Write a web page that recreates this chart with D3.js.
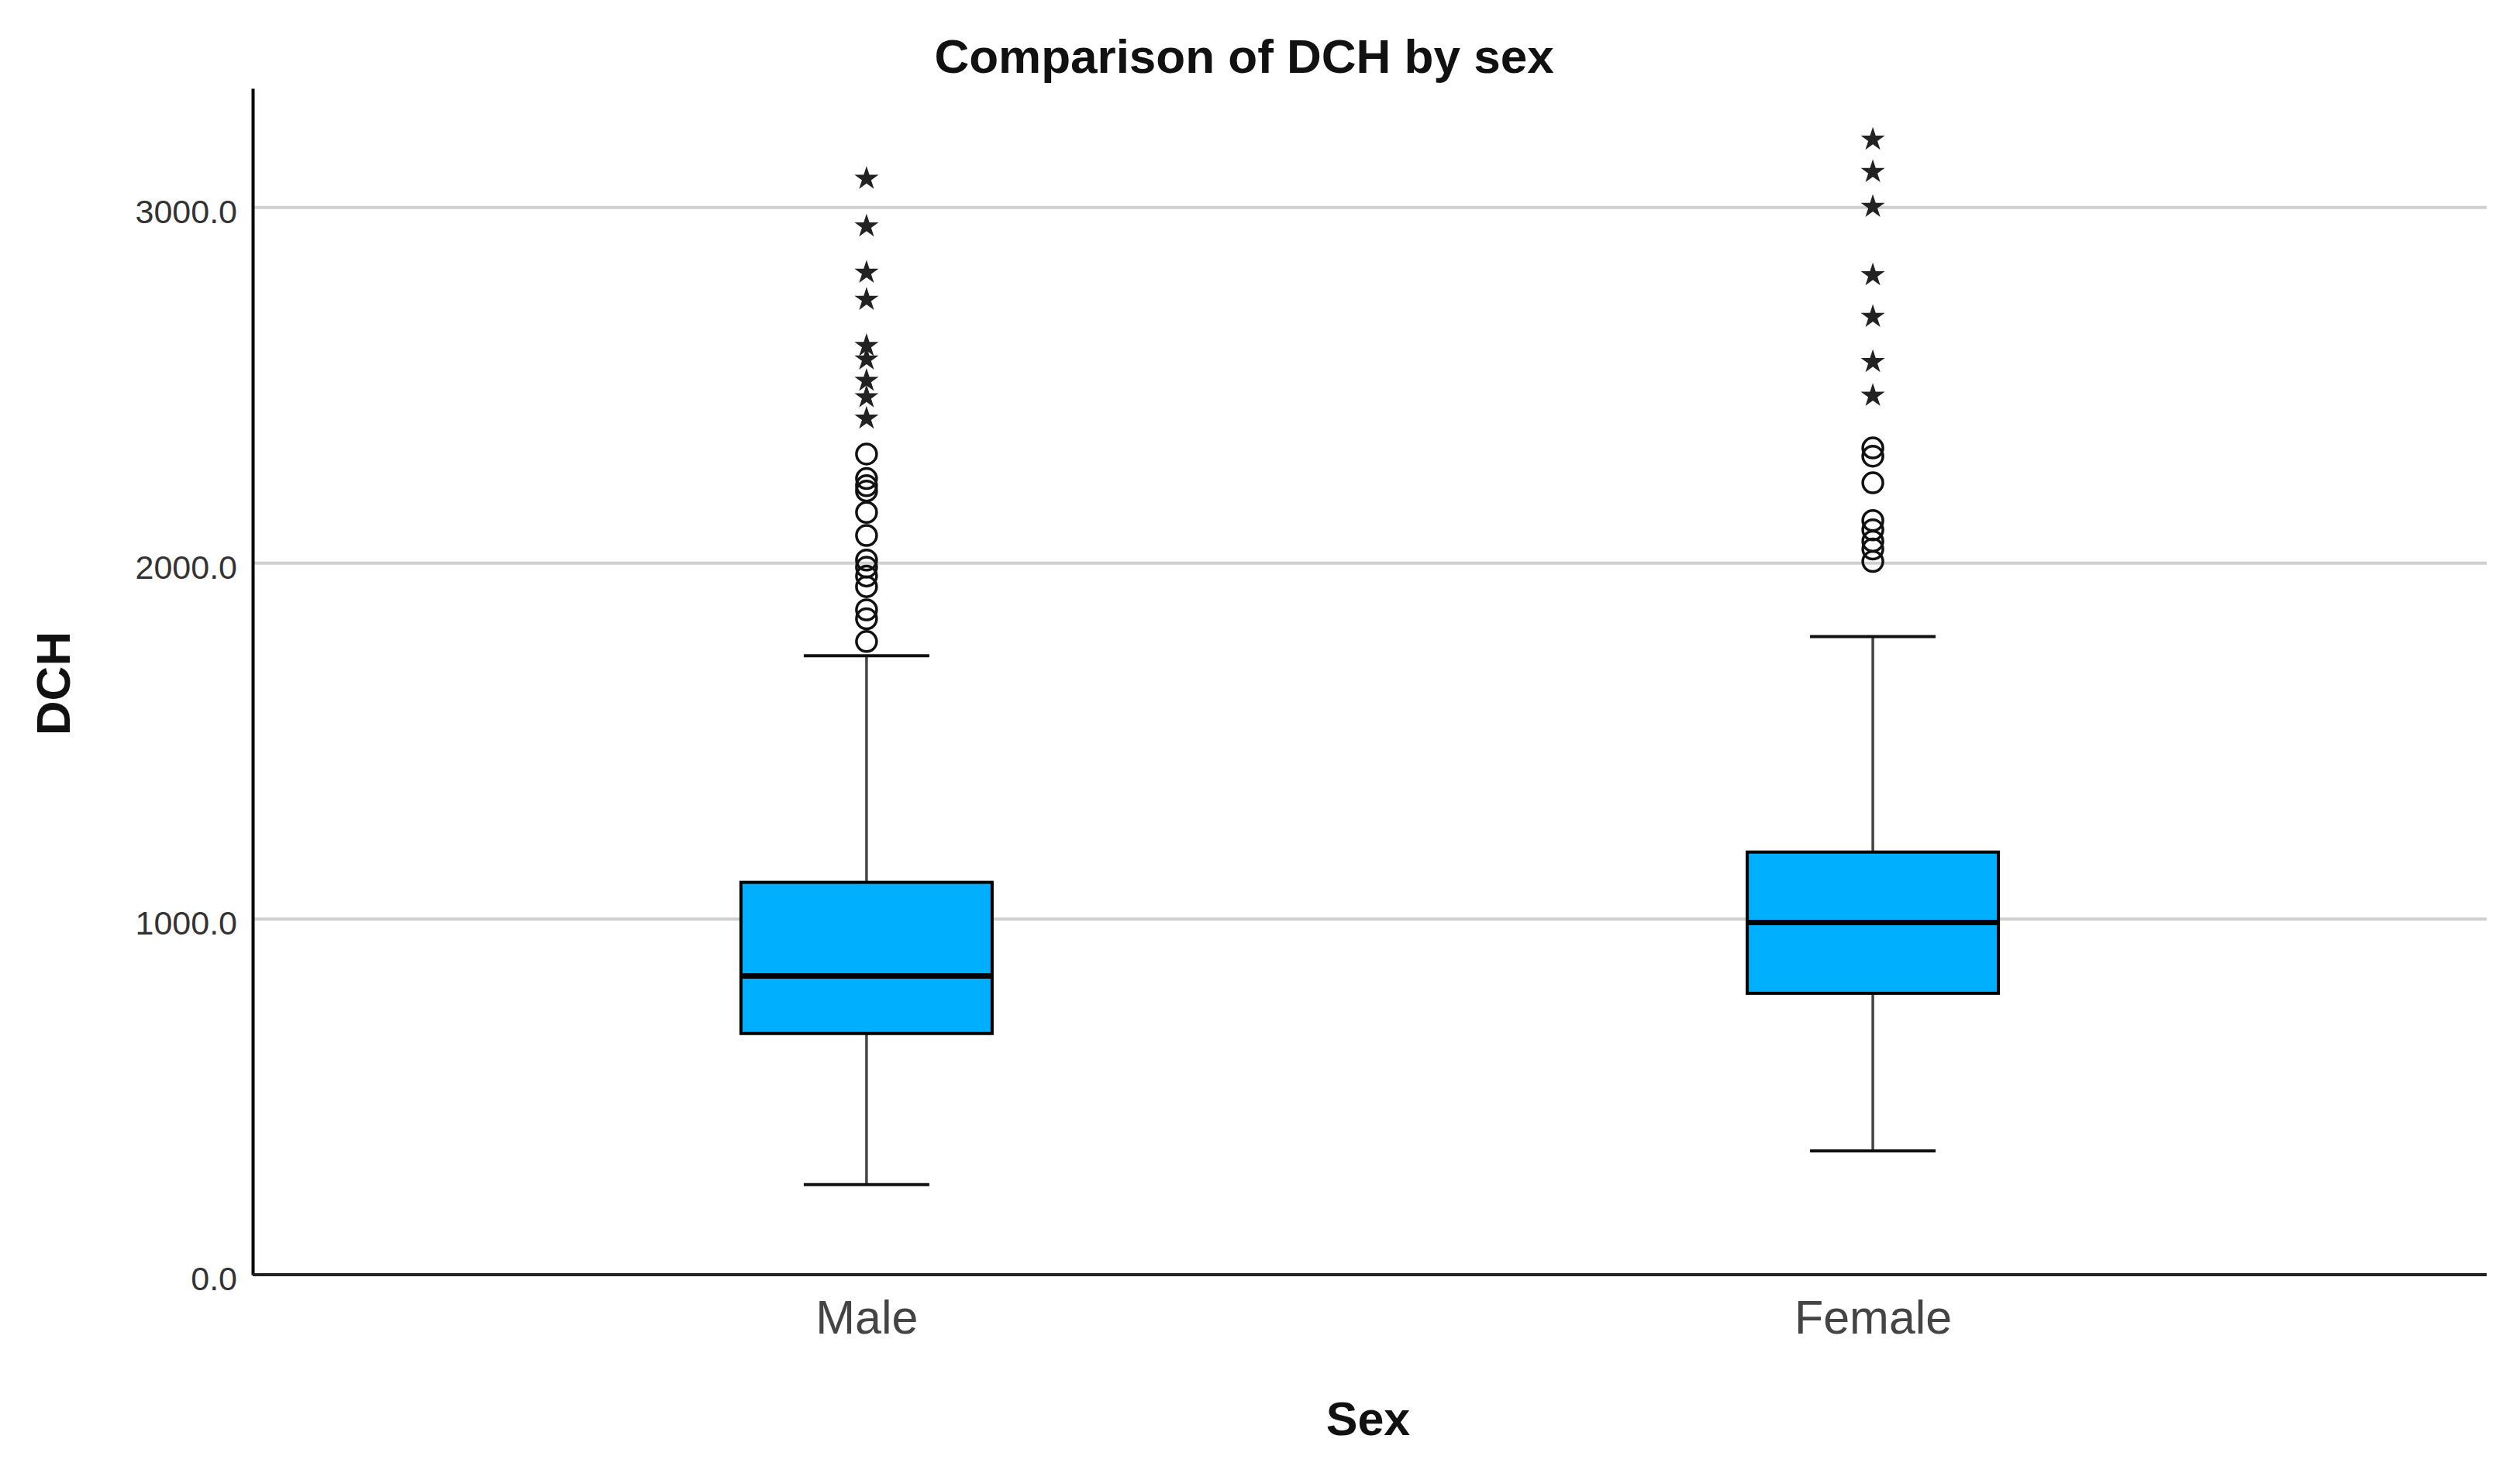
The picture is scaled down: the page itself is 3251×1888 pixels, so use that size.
<!DOCTYPE html>
<html>
<head>
    <meta charset="UTF-8" />
    <title>Comparison of DCH by sex</title>
    <script src="https://d3js.org/d3.v7.min.js"></script>
    <style>
      body { margin: 0; background: #fff; }
      text { font-family: Arial, "Liberation Sans", sans-serif; }
    </style>
</head>
<body>
<div id="main"></div>
<script type="text/javascript">

// data
const categories = ["Male", "Female"]
const q1 = [678, 791]
const medians = [840, 990]
const q3 = [1103, 1188]
const whiskerLow = [253, 348]
const whiskerHigh = [1740, 1794]
// mild outliers (circles)
const maleCircles = [2307, 2238, 2218, 2203, 2143, 2078, 2009, 1989, 1964, 1934, 1869, 1844, 1780]
const femaleCircles = [2324, 2301, 2226, 2120, 2094, 2062, 2040, 2005]
// extreme outliers (stars)
const maleStars = [3081, 2947, 2817, 2741, 2611, 2573, 2513, 2467, 2407]
const femaleStars = [3191, 3100, 3002, 2810, 2693, 2566, 2471]
const yTicks = [0, 1000, 2000, 3000]

const width = 3251
const height = 1888
const margin = {top: 114, right: 43, bottom: 243, left: 326}

const svg = d3.select("#main").append("svg")
  .attr("width", width)
  .attr("height", height)

const x = d3.scalePoint()
  .domain(categories)
  .range([margin.left, width - margin.right])
  .padding(0.61)

const y = d3.scaleLinear()
  .domain([0, 3335])
  .range([height - margin.bottom, margin.top])

const boxWidth = 324
const capWidth = 162

// gridlines
svg.append("g")
  .selectAll("line").data(yTicks.filter(d => d > 0)).enter().append("line")
  .attr("x1", margin.left).attr("x2", width - margin.right)
  .attr("y1", d => y(d)).attr("y2", d => y(d))
  .attr("stroke", "#cfcfcf")
  .attr("stroke-width", 4)

// y axis
const yAxis = svg.append("g")
  .attr("transform", `translate(${margin.left},0)`)
  .call(d3.axisLeft(y).tickValues(yTicks).tickFormat(d3.format(".1f")).tickSize(0).tickPadding(20))
yAxis.select(".domain").attr("stroke", "#000").attr("stroke-width", 4)
yAxis.selectAll("text").attr("font-size", 43).attr("fill", "#333").attr("dy", "0.45em")

// x axis
const xAxis = svg.append("g")
  .attr("transform", `translate(0,${height - margin.bottom})`)
  .call(d3.axisBottom(x).tickSize(0).tickPadding(24))
xAxis.select(".domain").attr("stroke", "#222").attr("stroke-width", 4)
  .attr("d", `M${margin.left},0H${width - margin.right}`)
xAxis.selectAll("text").attr("font-size", 61).attr("fill", "#444").attr("dy", "0.85em")

const boxes = categories.map((c, i) => ({
  cat: c, q1: q1[i], med: medians[i], q3: q3[i], lo: whiskerLow[i], hi: whiskerHigh[i]
}))

const g = svg.append("g")

// whiskers
g.selectAll(".whisker").data(boxes).enter().append("line")
  .attr("x1", d => x(d.cat)).attr("x2", d => x(d.cat))
  .attr("y1", d => y(d.lo)).attr("y2", d => y(d.hi))
  .attr("stroke", "#444").attr("stroke-width", 3.5)

g.selectAll(".capLo").data(boxes).enter().append("line")
  .attr("x1", d => x(d.cat) - capWidth / 2).attr("x2", d => x(d.cat) + capWidth / 2)
  .attr("y1", d => y(d.lo)).attr("y2", d => y(d.lo))
  .attr("stroke", "#111").attr("stroke-width", 4)

g.selectAll(".capHi").data(boxes).enter().append("line")
  .attr("x1", d => x(d.cat) - capWidth / 2).attr("x2", d => x(d.cat) + capWidth / 2)
  .attr("y1", d => y(d.hi)).attr("y2", d => y(d.hi))
  .attr("stroke", "#111").attr("stroke-width", 4)

// boxes
g.selectAll("rect").data(boxes).enter().append("rect")
  .attr("x", d => x(d.cat) - boxWidth / 2)
  .attr("width", boxWidth)
  .attr("y", d => y(d.q3))
  .attr("height", d => y(d.q1) - y(d.q3))
  .attr("fill", "#00b0ff")
  .attr("stroke", "#000")
  .attr("stroke-width", 4)

g.selectAll(".median").data(boxes).enter().append("line")
  .attr("x1", d => x(d.cat) - boxWidth / 2).attr("x2", d => x(d.cat) + boxWidth / 2)
  .attr("y1", d => y(d.med)).attr("y2", d => y(d.med))
  .attr("stroke", "#000").attr("stroke-width", 7)

// outliers
const circles = []
maleCircles.forEach(v => circles.push({cat: "Male", v}))
femaleCircles.forEach(v => circles.push({cat: "Female", v}))
const stars = []
maleStars.forEach(v => stars.push({cat: "Male", v}))
femaleStars.forEach(v => stars.push({cat: "Female", v}))

g.selectAll(".outlier").data(circles).enter().append("circle")
  .attr("cx", d => x(d.cat)).attr("cy", d => y(d.v))
  .attr("r", 13)
  .attr("fill", "none")
  .attr("stroke", "#111")
  .attr("stroke-width", 3.5)

g.selectAll(".extreme").data(stars).enter().append("path")
  .attr("transform", d => `translate(${x(d.cat)},${y(d.v)})`)
  .attr("d", d3.symbol().type(d3.symbolStar).size(300))
  .attr("fill", "#222")

// titles
svg.append("text")
  .attr("x", 1605).attr("y", 94)
  .attr("text-anchor", "middle")
  .attr("font-size", 62).attr("font-weight", "bold").attr("fill", "#111")
  .text("Comparison of DCH by sex")

svg.append("text")
  .attr("x", 1765).attr("y", 1852)
  .attr("text-anchor", "middle")
  .attr("font-size", 61).attr("font-weight", "bold").attr("fill", "#111")
  .text("Sex")

svg.append("text")
  .attr("transform", "translate(90,882) rotate(-90)")
  .attr("text-anchor", "middle")
  .attr("font-size", 62).attr("font-weight", "bold").attr("fill", "#111")
  .text("DCH")

</script>
</body>
</html>
